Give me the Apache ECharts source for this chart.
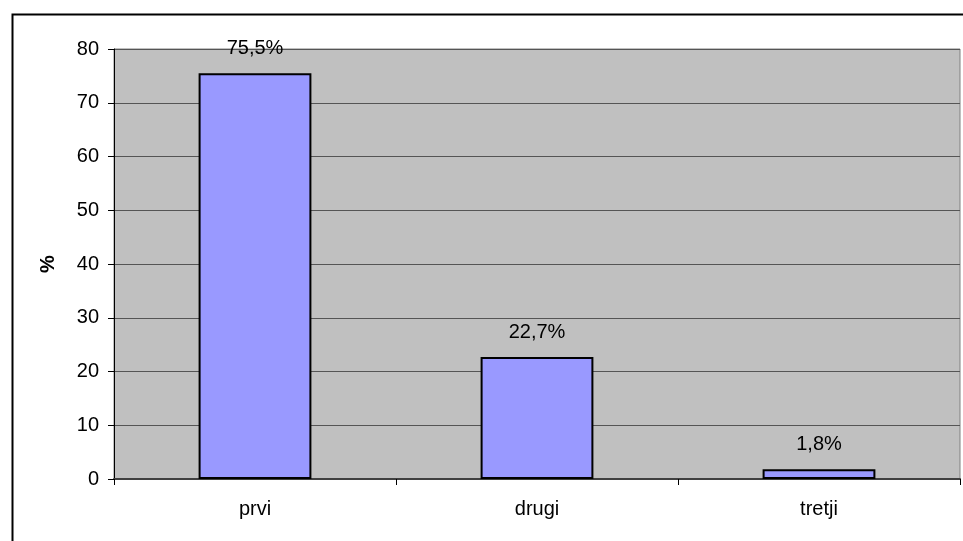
<!DOCTYPE html>
<html>
<head>
<meta charset="utf-8">
<script src="https://cdn.jsdelivr.net/npm/echarts@6/dist/echarts.min.js"></script>
<style>
  html, body { margin: 0; padding: 0; background: #fff; }
  #chart { width: 963px; height: 541px; }
</style>
</head>
<body>
<div id="chart"></div>
<script>
// Share of answers by place (percent)
const categories = ['prvi', 'drugi', 'tretji'];
const shares = [75.5, 22.7, 1.8];
const yTicks = { min: 0, max: 80, interval: 10 };
const yName = '%';

const fontFamily = '"Liberation Sans", Arial, sans-serif';

const chart = echarts.init(document.getElementById('chart'), null, { renderer: 'canvas' });

chart.setOption({
  backgroundColor: '#ffffff',
  animation: false,
  graphic: [{
    type: 'rect',
    left: 10,
    top: 12,
    shape: { width: 1000, height: 600 },
    style: { fill: 'none', stroke: '#000', lineWidth: 2 },
    z: 100
  }],
  grid: {
    left: 114,
    right: 3,
    top: 49,
    bottom: 62,
    show: true,
    backgroundColor: '#C0C0C0',
    borderColor: '#808080',
    borderWidth: 1
  },
  xAxis: {
    type: 'category',
    data: categories,
    axisLine: { show: true, lineStyle: { color: '#404040', width: 2 } },
    axisTick: { show: true, alignWithLabel: false, length: 6, lineStyle: { color: '#000' } },
    axisLabel: { color: '#000', fontFamily, fontSize: 20, margin: 20 }
  },
  yAxis: {
    type: 'value',
    min: yTicks.min,
    max: yTicks.max,
    interval: yTicks.interval,
    name: yName,
    nameLocation: 'middle',
    nameGap: 56,
    nameRotate: 90,
    nameTextStyle: { color: '#000', fontFamily, fontSize: 20, fontWeight: 'bold' },
    axisLine: { show: true, lineStyle: { color: '#000', width: 1 } },
    axisTick: { show: true, length: 6, lineStyle: { color: '#000' } },
    axisLabel: { color: '#000', fontFamily, fontSize: 20, margin: 15 },
    splitLine: { show: true, lineStyle: { color: '#555555', width: 1 } }
  },
  series: [{
    type: 'bar',
    data: shares,
    barWidth: '40%',
    itemStyle: { color: '#9999FF', borderColor: '#000', borderWidth: 2 },
    label: {
      show: true,
      position: 'top',
      distance: 15,
      color: '#000',
      fontFamily,
      fontSize: 20,
      formatter: p => String(p.value).replace('.', ',') + '%'
    }
  }]
});
</script>
</body>
</html>
